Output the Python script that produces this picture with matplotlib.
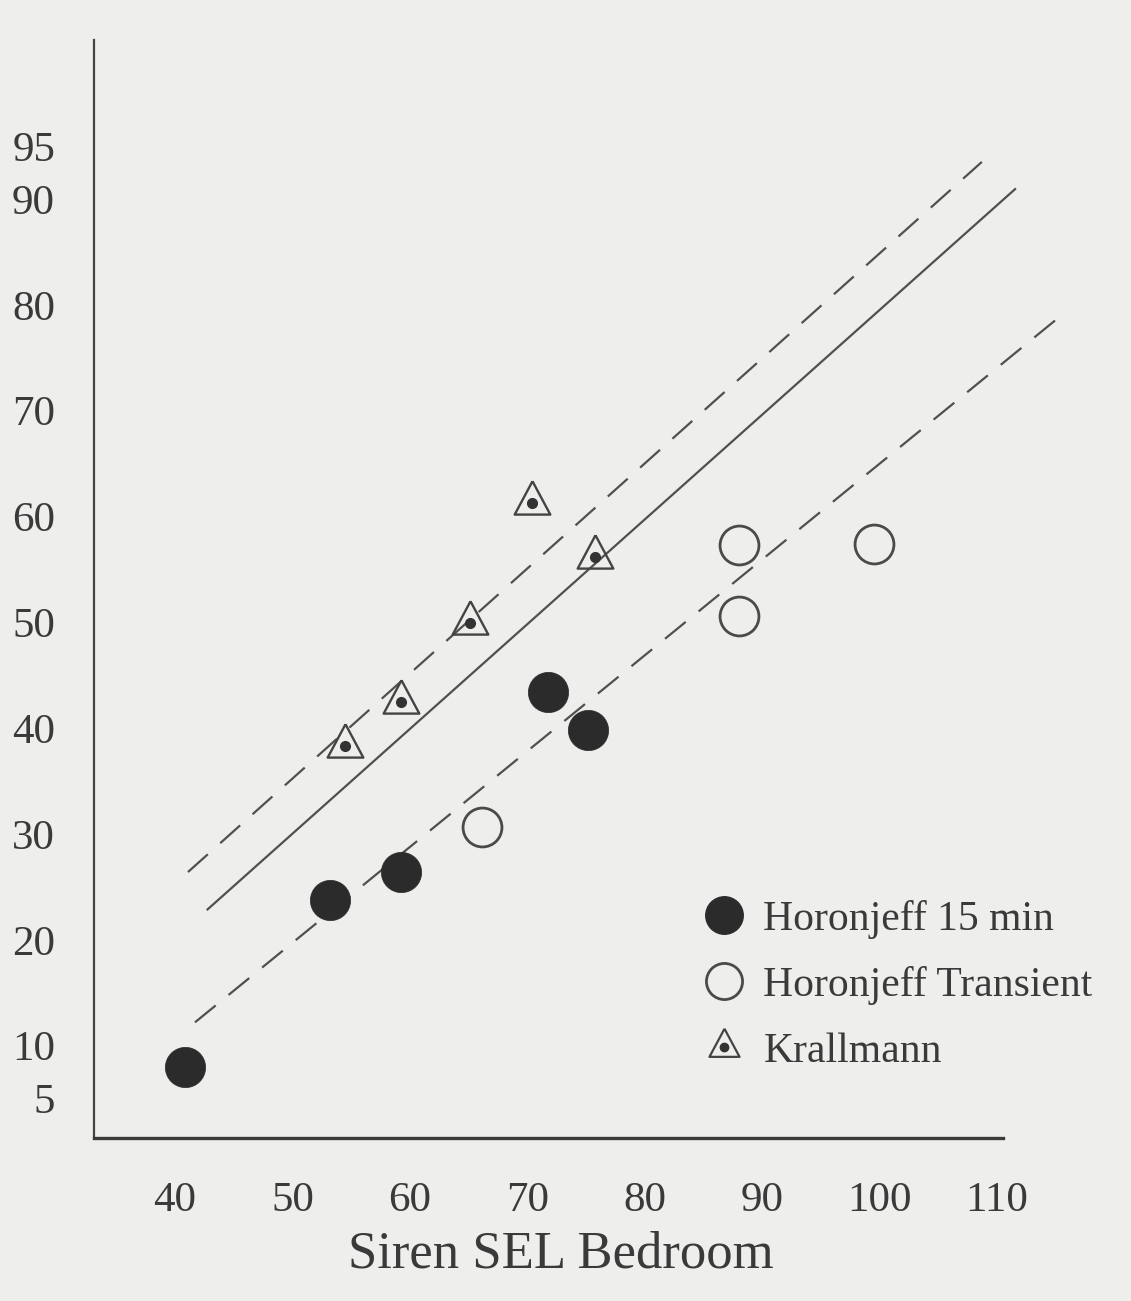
import matplotlib
matplotlib.use("Agg")
import matplotlib.pyplot as plt
from matplotlib.lines import Line2D
from matplotlib.legend_handler import HandlerTuple

# ---- data ----
h15_x = [40.85, 53.2, 59.2, 71.8, 75.2]
h15_y = [8.0, 23.8, 26.4, 43.4, 39.8]

htr_x = [66.1, 88.0, 88.0, 99.5]
htr_y = [30.7, 57.3, 50.6, 57.4]

kr_x = [54.5, 59.2, 65.1, 70.4, 75.8]
kr_y = [38.3, 42.5, 49.9, 61.3, 56.2]

solid_x = [42.7, 111.6]
solid_y = [22.8, 91.0]
upper_x = [41.1, 108.7]
upper_y = [26.4, 93.5]
lower_x = [41.7, 115.8]
lower_y = [12.2, 79.3]

xticks = [40, 50, 60, 70, 80, 90, 100, 110]
yticks = [5, 10, 20, 30, 40, 50, 60, 70, 80, 90, 95]
xlabel = "Siren SEL Bedroom"
labels = ["Horonjeff 15 min", "Horonjeff Transient", "Krallmann"]

# ---- style ----
BG = "#eeeeec"
INK = "#3a3a3a"
LINE = "#505050"
plt.rcParams["font.family"] = ["Liberation Serif", "DejaVu Serif"]

W, H = 1131, 1301
fig = plt.figure(figsize=(W / 100, H / 100), dpi=100, facecolor=BG)
ax_left, ax_bottom_px = 94, 1138
ax = fig.add_axes([ax_left / W, 1 - ax_bottom_px / H, (W - ax_left) / W, ax_bottom_px / H])
ax.set_facecolor(BG)
ax.set_xlim(33.1, 121.4)
ax.set_ylim(1.27, 108.8)

for s in ("top", "right"):
    ax.spines[s].set_visible(False)
ax.spines["left"].set_bounds(1.27, 105.0)
ax.spines["bottom"].set_bounds(33.1, 110.5)
ax.spines["left"].set_linewidth(1.6)
ax.spines["bottom"].set_linewidth(2.4)
ax.spines["left"].set_color("#444444")
ax.spines["bottom"].set_color("#3a3a3a")

ax.set_xticks(xticks)
ax.set_yticks(yticks)
ax.set_xticklabels([str(v) for v in xticks])
ax.set_yticklabels([str(v) for v in yticks])
ax.tick_params(axis="x", length=0, pad=31, labelsize=31, labelcolor=INK)
ax.tick_params(axis="y", length=0, pad=28, labelsize=31, labelcolor=INK)

# regression / bound lines
dash = (0, (12, 7.5))
ax.plot(solid_x, solid_y, color=LINE, lw=1.6, solid_capstyle="butt")
ax.plot(upper_x, upper_y, color=LINE, lw=1.6, linestyle=dash)
ax.plot(lower_x, lower_y, color=LINE, lw=1.6, linestyle=dash)

# triangle marker with centroid at the origin
tri = [(0, 0.667), (-0.535, -0.333), (0.535, -0.333), (0, 0.667)]

ax.plot(h15_x, h15_y, linestyle="none", marker="o", ms=29,
        mfc="#2b2b2b", mec="#2b2b2b", mew=0.5, zorder=4)
ax.plot(htr_x, htr_y, linestyle="none", marker="o", ms=28,
        mfc="none", mec="#4a4a4a", mew=2.0, zorder=4)
ax.plot(kr_x, kr_y, linestyle="none", marker=tri, ms=32,
        mfc="none", mec="#444444", mew=1.7, zorder=4)
ax.plot(kr_x, kr_y, linestyle="none", marker="o", ms=7,
        mfc="#333333", mec="#333333", zorder=5)

ax.set_xlabel(xlabel, fontsize=38, color=INK)
ax.xaxis.set_label_coords(561 / W, 1 - 1268 / H, transform=fig.transFigure)
ax.xaxis.label.set_va("baseline")

# legend
h1 = Line2D([], [], linestyle="none", marker="o", ms=27, mfc="#2b2b2b", mec="#2b2b2b")
h2 = Line2D([], [], linestyle="none", marker="o", ms=26, mfc="none", mec="#4a4a4a", mew=2.0)
h3a = Line2D([], [], linestyle="none", marker=tri, ms=27, mfc="none", mec="#444444", mew=1.6)
h3b = Line2D([], [], linestyle="none", marker="o", ms=6, mfc="#333333", mec="#333333")
leg = ax.legend([h1, h2, (h3a, h3b)], labels,
                handler_map={tuple: HandlerTuple(ndivide=1, pad=0)},
                loc="upper left", bbox_to_anchor=(703 / W, 1 - 900 / H),
                bbox_transform=fig.transFigure, frameon=False,
                fontsize=30, handlelength=1.0, handletextpad=0.45,
                labelspacing=0.65, borderpad=0, borderaxespad=0)
for t in leg.get_texts():
    t.set_color(INK)

fig.savefig("out.png", dpi=100, facecolor=BG)
